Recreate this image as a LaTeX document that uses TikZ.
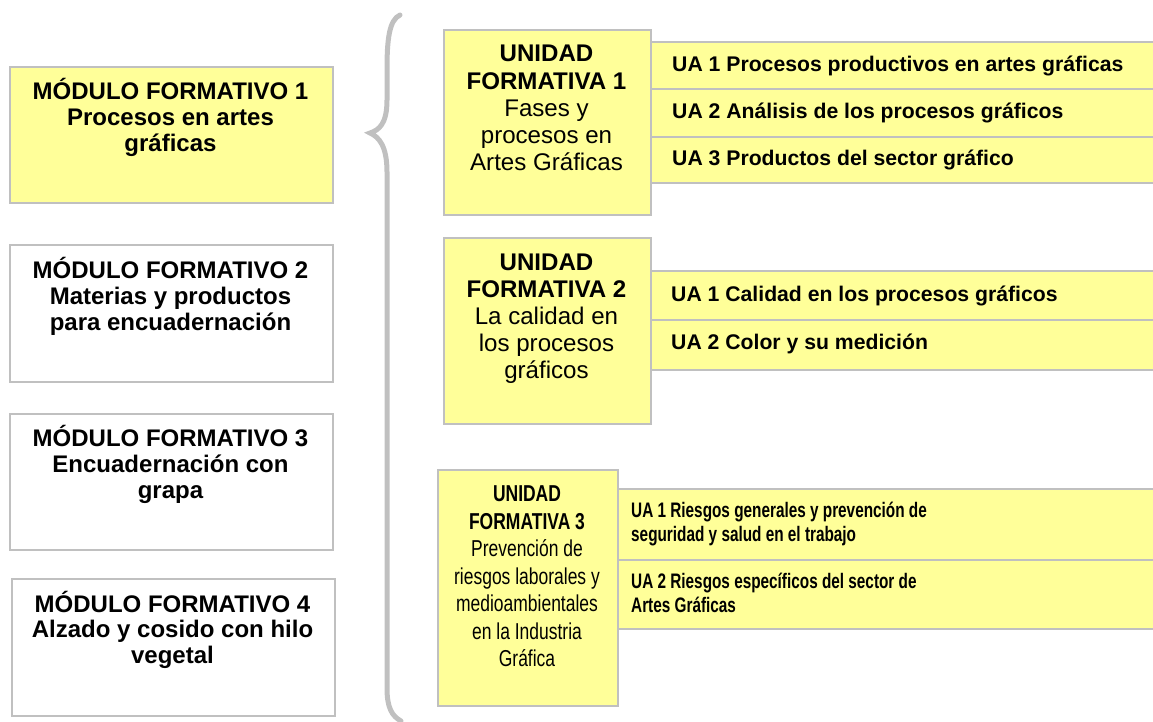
\documentclass[tikz,border=0pt]{standalone}
\usepackage{fontspec}
\setmainfont{Liberation Sans}
\newfontfamily\condfont[FakeStretch=0.76]{Liberation Sans}
\newfontfamily\condfontua[FakeStretch=0.73]{Liberation Sans}
\definecolor{boxyellow}{HTML}{FFFF99}
\definecolor{boxgray}{HTML}{C0C0C0}
\tikzset{
  box/.style={rectangle, draw=boxgray, line width=1.6pt, inner sep=0pt, anchor=north west},
  ybox/.style={box, fill=boxyellow},
  wbox/.style={box, fill=white},
  mftext/.style={anchor=base, inner sep=0pt, font=\bfseries\fontsize{24}{25.8}\selectfont},
  uftext/.style={anchor=base, inner sep=0pt, font=\fontsize{24.1}{27.2}\selectfont},
  uf3text/.style={anchor=base, inner sep=0pt, font=\condfont\fontsize{23}{27.5}\selectfont},
  uatext/.style={anchor=base west, inner sep=0pt, font=\bfseries\fontsize{21.2}{24}\selectfont},
  ua3text/.style={anchor=base west, inner sep=0pt, font=\condfontua\bfseries\fontsize{21}{24.3}\selectfont},
  brace/.style={draw=boxgray, line width=5pt, line cap=round}
}
\begin{document}
\begin{tikzpicture}[x=1pt, y=-1pt]
\useasboundingbox (0,0) rectangle (1153,722);
% left module boxes
\node[ybox, minimum width=323pt, minimum height=136pt] (mf1) at (9,66) {};
\node[wbox, minimum width=323pt, minimum height=137pt] (mf2) at (9,244) {};
\node[wbox, minimum width=323pt, minimum height=136pt] (mf3) at (9,413) {};
\node[wbox, minimum width=323pt, minimum height=137pt] (mf4) at (11,578) {};
\node[mftext] (mf1t) at (170.5,100) {\parbox[t]{320pt}{\centering MÓDULO FORMATIVO 1\\Procesos en artes\\gráficas}};
\node[mftext] (mf2t) at (170.5,278.5) {\parbox[t]{320pt}{\centering MÓDULO FORMATIVO 2\\Materias y productos\\para encuadernación}};
\node[mftext] (mf3t) at (170.5,446.5) {\parbox[t]{320pt}{\centering MÓDULO FORMATIVO 3\\Encuadernación con\\grapa}};
\node[mftext] (mf4t) at (172.5,612) {\parbox[t]{320pt}{\centering MÓDULO FORMATIVO 4\\Alzado y cosido con hilo\\vegetal}};
% brace
\draw[brace] (400,15) .. controls (389,20) and (387,40) .. (387,70) -- (387,100)
  .. controls (387,124) and (379,130) .. (370,133)
  .. controls (379,137) and (387,146) .. (387,172) -- (387,688)
  .. controls (387,708) and (392,716) .. (401,721);
% UF1
\node[ybox, minimum width=504pt, minimum height=47pt] (u11) at (650,41) {};
\node[ybox, minimum width=504pt, minimum height=48pt] (u12) at (650,88) {};
\node[ybox, minimum width=504pt, minimum height=46pt] (u13) at (650,136) {};
\node[ybox, minimum width=207pt, minimum height=185pt] (uf1) at (443,29) {};
\node[uftext] (uf1t) at (546.5,62) {\parbox[t]{205pt}{\centering\textbf{UNIDAD}\\\textbf{FORMATIVA 1}\\Fases y\\procesos en\\Artes Gráficas}};
\node[uatext] (u11t) at (672,71.5) {UA 1 Procesos productivos en artes gráficas};
\node[uatext] (u12t) at (672,119) {UA 2 Análisis de los procesos gráficos};
\node[uatext] (u13t) at (672,166) {UA 3 Productos del sector gráfico};
% UF2
\node[ybox, minimum width=504pt, minimum height=49pt] (u21) at (650,270) {};
\node[ybox, minimum width=504pt, minimum height=50pt] (u22) at (650,319) {};
\node[ybox, minimum width=207pt, minimum height=186pt] (uf2) at (443,237) {};
\node[uftext] (uf2t) at (546.5,270) {\parbox[t]{205pt}{\centering\textbf{UNIDAD}\\\textbf{FORMATIVA 2}\\La calidad en\\los procesos\\gráficos}};
\node[uatext] (u21t) at (671,301) {UA 1 Calidad en los procesos gráficos};
\node[uatext] (u22t) at (671,349.5) {UA 2 Color y su medición};
% UF3
\node[ybox, minimum width=537pt, minimum height=71pt] (u31) at (617,488) {};
\node[ybox, minimum width=537pt, minimum height=69pt] (u32) at (617,559) {};
\node[ybox, minimum width=180pt, minimum height=236pt] (uf3) at (437,469) {};
\node[uf3text] (uf3t) at (527,501.7) {\parbox[t]{178pt}{\centering\textbf{UNIDAD}\\\textbf{FORMATIVA 3}\\Prevención de\\riesgos laborales y\\medioambientales\\en la Industria\\Gráfica}};
\node[ua3text] (u31t) at (631,517.3) {\parbox[t]{500pt}{\raggedright UA 1 Riesgos generales y prevención de\\seguridad y salud en el trabajo}};
\node[ua3text] (u32t) at (631,588.3) {\parbox[t]{500pt}{\raggedright UA 2 Riesgos específicos del sector de\\Artes Gráficas}};
\end{tikzpicture}
\end{document}
